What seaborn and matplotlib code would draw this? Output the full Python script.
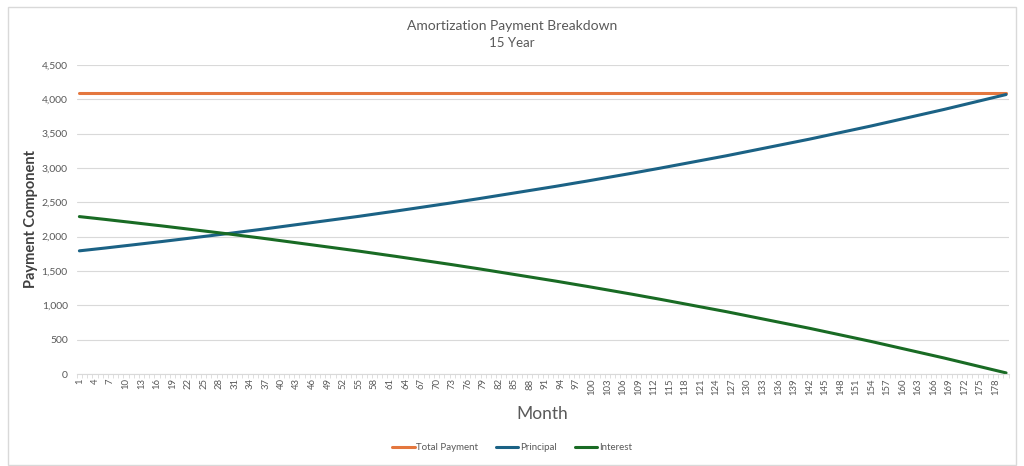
import numpy as np
import pandas as pd
import matplotlib
matplotlib.use("Agg")
import matplotlib.pyplot as plt
import seaborn as sns
from matplotlib.patches import Rectangle
from matplotlib.ticker import FuncFormatter

# Valores (mes 1 a 180)
months = list(range(1, 181))
total_payment = [4086] * 180
principal = [
    1794, 1802, 1810, 1819, 1827, 1835, 1844, 1852, 1861, 1869, 1878, 1887,
    1895, 1904, 1913, 1921, 1930, 1939, 1948, 1957, 1966, 1975, 1984, 1993,
    2002, 2011, 2020, 2030, 2039, 2048, 2058, 2067, 2077, 2086, 2096, 2105,
    2115, 2125, 2134, 2144, 2154, 2164, 2174, 2184, 2194, 2204, 2214, 2224,
    2234, 2245, 2255, 2265, 2276, 2286, 2296, 2307, 2318, 2328, 2339, 2350,
    2360, 2371, 2382, 2393, 2404, 2415, 2426, 2437, 2448, 2460, 2471, 2482,
    2493, 2505, 2516, 2528, 2539, 2551, 2563, 2574, 2586, 2598, 2610, 2622,
    2634, 2646, 2658, 2670, 2683, 2695, 2707, 2720, 2732, 2745, 2757, 2770,
    2783, 2795, 2808, 2821, 2834, 2847, 2860, 2873, 2886, 2900, 2913, 2926,
    2940, 2953, 2967, 2980, 2994, 3008, 3021, 3035, 3049, 3063, 3077, 3091,
    3105, 3120, 3134, 3148, 3163, 3177, 3192, 3206, 3221, 3236, 3251, 3266,
    3281, 3296, 3311, 3326, 3341, 3356, 3372, 3387, 3403, 3418, 3434, 3450,
    3466, 3481, 3497, 3513, 3530, 3546, 3562, 3578, 3595, 3611, 3628, 3644,
    3661, 3678, 3695, 3712, 3729, 3746, 3763, 3780, 3797, 3815, 3832, 3850,
    3868, 3885, 3903, 3921, 3939, 3957, 3975, 3993, 4012, 4030, 4048, 4067,
]
interest = [
    2292, 2284, 2276, 2267, 2259, 2251, 2242, 2234, 2225, 2217, 2208, 2199,
    2191, 2182, 2173, 2165, 2156, 2147, 2138, 2129, 2120, 2111, 2102, 2093,
    2084, 2075, 2066, 2056, 2047, 2038, 2028, 2019, 2009, 2000, 1990, 1981,
    1971, 1961, 1952, 1942, 1932, 1922, 1912, 1902, 1892, 1882, 1872, 1862,
    1852, 1841, 1831, 1821, 1810, 1800, 1790, 1779, 1768, 1758, 1747, 1736,
    1726, 1715, 1704, 1693, 1682, 1671, 1660, 1649, 1638, 1626, 1615, 1604,
    1593, 1581, 1570, 1558, 1547, 1535, 1523, 1512, 1500, 1488, 1476, 1464,
    1452, 1440, 1428, 1416, 1403, 1391, 1379, 1366, 1354, 1341, 1329, 1316,
    1303, 1291, 1278, 1265, 1252, 1239, 1226, 1213, 1200, 1186, 1173, 1160,
    1146, 1133, 1119, 1106, 1092, 1078, 1065, 1051, 1037, 1023, 1009, 995,
    981, 966, 952, 938, 923, 909, 894, 880, 865, 850, 835, 820,
    805, 790, 775, 760, 745, 730, 714, 699, 683, 668, 652, 636,
    620, 605, 589, 573, 556, 540, 524, 508, 491, 475, 458, 442,
    425, 408, 391, 374, 357, 340, 323, 306, 289, 271, 254, 236,
    218, 201, 183, 165, 147, 129, 111, 93, 74, 56, 38, 19,
]
series_names = ['Total Payment', 'Principal', 'Interest']
y_ticks = [0, 500, 1000, 1500, 2000, 2500, 3000, 3500, 4000, 4500]

df = pd.DataFrame({'Month': months, 'Total Payment': total_payment,
                   'Principal': principal, 'Interest': interest})
plot_df = df.melt(id_vars='Month', value_vars=series_names,
                  var_name='Componente', value_name='Valor')

sns.set_theme(style='white')
plt.rcParams['font.family'] = ['Lato', 'DejaVu Sans']
gris = '#595959'

fig = plt.figure(figsize=(10.24, 4.66), dpi=100)
ax = fig.add_axes([0.075, 0.197, 0.910, 0.664])

palette = {'Total Payment': '#E4773E', 'Principal': '#1B6285', 'Interest': '#196B24'}
sns.lineplot(data=plot_df, x='Month', y='Valor', hue='Componente',
             palette=palette, linewidth=2.2, ax=ax, legend=False)

ax.set_xlim(0.5, 180.5)
ax.set_ylim(0, 4500)
ax.set_yticks(y_ticks)
ax.yaxis.set_major_formatter(FuncFormatter(lambda v, p: f'{int(v):,}'))
ax.grid(axis='y', color='#d9d9d9', linewidth=0.8)
ax.set_axisbelow(True)
for s in ['top', 'right', 'left']:
    ax.spines[s].set_visible(False)
ax.spines['bottom'].set_color('#d9d9d9')
ax.spines['bottom'].set_linewidth(0.8)

ax.set_xticks(months[::3])
ax.set_xticklabels([str(m) for m in months[::3]], rotation=90)
ax.set_xticks(np.arange(0.5, 181, 1), minor=True)
ax.tick_params(axis='x', which='major', length=0, labelsize=6.8, labelcolor=gris, pad=3)
ax.tick_params(axis='x', which='minor', length=3, color='#d9d9d9', width=0.6, bottom=True)
ax.tick_params(axis='y', length=0, labelsize=7.5, labelcolor=gris, pad=6.5)

ax.set_xlabel('Month', fontsize=12.5, color=gris, labelpad=8)
ax.set_ylabel('Payment Component', fontsize=10.5, fontweight='bold', color='#404040')
ax.yaxis.set_label_coords(-0.042, 0.5)

fig.text(0.5, 1 - 26 / 466, 'Amortization Payment Breakdown', ha='center', va='center',
         fontsize=10, color=gris)
fig.text(0.5, 1 - 43 / 466, '15 Year', ha='center', va='center', fontsize=9.5, color=gris)

# Leyenda manual
handles = [plt.Line2D([], [], color=palette[n], linewidth=2.2) for n in series_names]
fig.legend(handles, series_names, loc='center', bbox_to_anchor=(0.5, 1 - 448 / 466), ncol=3,
           frameon=False, fontsize=7, labelcolor=gris, handlelength=2.3,
           handletextpad=0.2, columnspacing=1.8)

fig.patches.append(Rectangle((8 / 1024, 1 - 465 / 466), 1008 / 1024, 458 / 466,
                             transform=fig.transFigure, fill=False,
                             edgecolor='#d9d9d9', linewidth=1))

fig.savefig('out.png', dpi=100)
